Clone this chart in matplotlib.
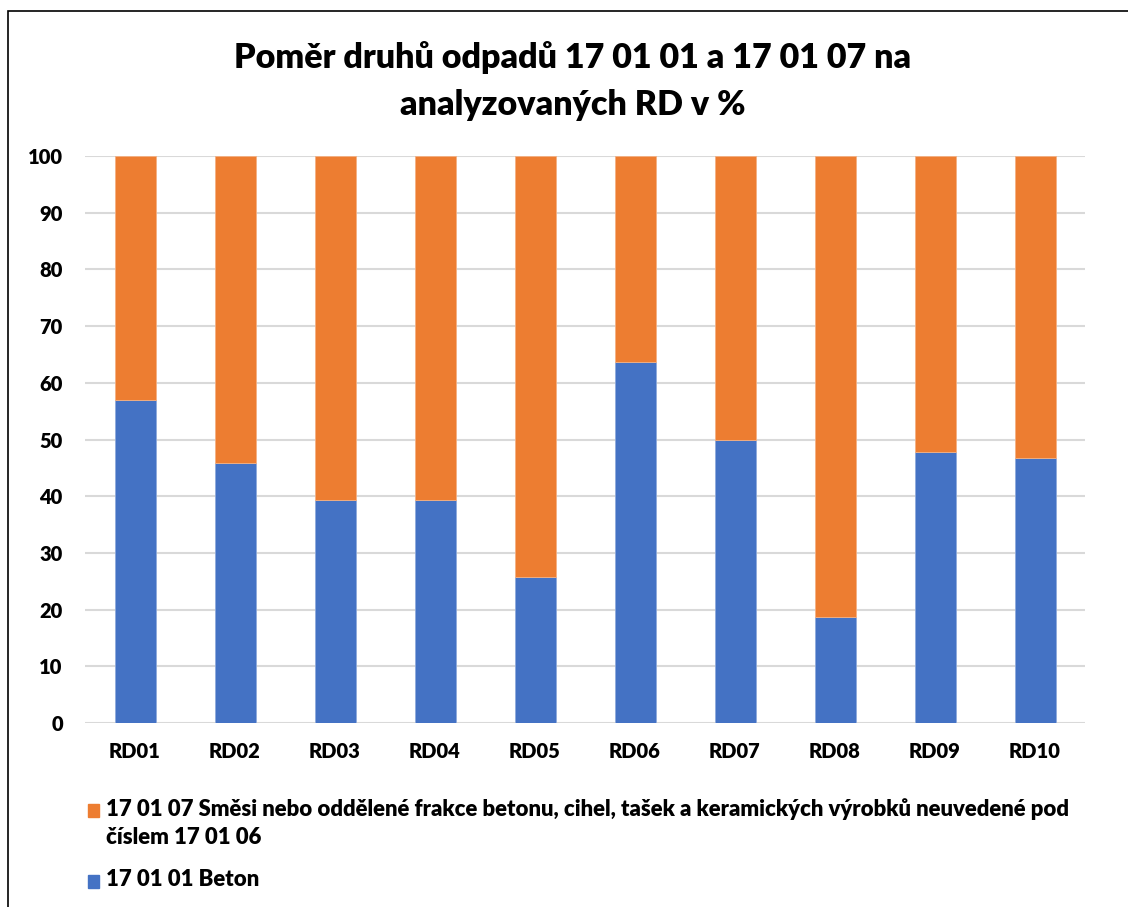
import matplotlib

matplotlib.use("Agg")
import matplotlib.pyplot as plt
import numpy as np
from matplotlib.patches import Rectangle

plt.rcParams["font.family"] = ["Lato", "DejaVu Sans"]
plt.rcParams["font.weight"] = "heavy"

# data (percent)
houses = ["RD01", "RD02", "RD03", "RD04", "RD05",
          "RD06", "RD07", "RD08", "RD09", "RD10"]
beton = [57.0, 45.8, 39.3, 39.3, 25.8, 63.7, 50.0, 18.7, 47.8, 46.7]
smesi = [100 - b for b in beton]

label_beton = "17 01 01 Beton"
label_smesi = ("17 01 07 Směsi nebo oddělené frakce betonu, cihel, tašek a "
               "keramických výrobků neuvedené pod\nčíslem 17 01 06")
title = "Poměr druhů odpadů 17 01 01 a 17 01 07 na\nanalyzovaných RD v %"

blue = "#4472C4"
orange = "#ED7D31"
W, H = 1128, 907

fig = plt.figure(figsize=(W / 100, H / 100), dpi=100)
ax = fig.add_axes([85 / W, (H - 723) / H, 1000 / W, (723 - 156) / H])

x = np.arange(len(houses))
ax.bar(x, beton, width=0.41, color=blue, edgecolor="#8faadc", linewidth=0.6,
       zorder=3)
ax.bar(x, smesi, bottom=beton, width=0.41, color=orange, edgecolor="#f4b183",
       linewidth=0.6, zorder=3)

ax.set_xlim(-0.5, len(houses) - 0.5)
ax.set_ylim(0, 100)
ax.set_yticks(np.arange(0, 101, 10))
ax.set_xticks(x)
ax.set_xticklabels(houses)
ax.grid(axis="y", color="#d9d9d9", linewidth=1.5, zorder=0)
ax.tick_params(axis="both", length=0, labelsize=14.5, labelcolor="black")
ax.tick_params(axis="y", pad=16)
ax.tick_params(axis="x", pad=14)
for lbl in ax.get_xticklabels() + ax.get_yticklabels():
    lbl.set_fontweight("heavy")
for s in ax.spines.values():
    s.set_visible(False)

fig.text(573 / W, 1 - 81 / H, title, ha="center", va="center", fontsize=24.5,
         fontweight="heavy", linespacing=1.55)

# legend, drawn by hand so the marker sits beside the first line
entries = [(orange, label_smesi, 810), (blue, label_beton, 881)]
for color, text, ypx in entries:
    fig.patches.append(Rectangle((88 / W, 1 - (ypx + 7) / H), 11 / W, 13 / H,
                                 transform=fig.transFigure, color=color))
    fig.text(106 / W, 1 - (ypx - 12) / H, text, ha="left", va="top",
             fontsize=15.9, fontweight="heavy", linespacing=1.45,
             transform=fig.transFigure)

# chart frame, cut off at the right and bottom as in the source image
fig.patches.append(Rectangle((8 / W, -0.1), 1.2, (H - 11) / H + 0.1,
                             transform=fig.transFigure, fill=False,
                             edgecolor="black", linewidth=1.2))

fig.savefig("out.png", dpi=100)
